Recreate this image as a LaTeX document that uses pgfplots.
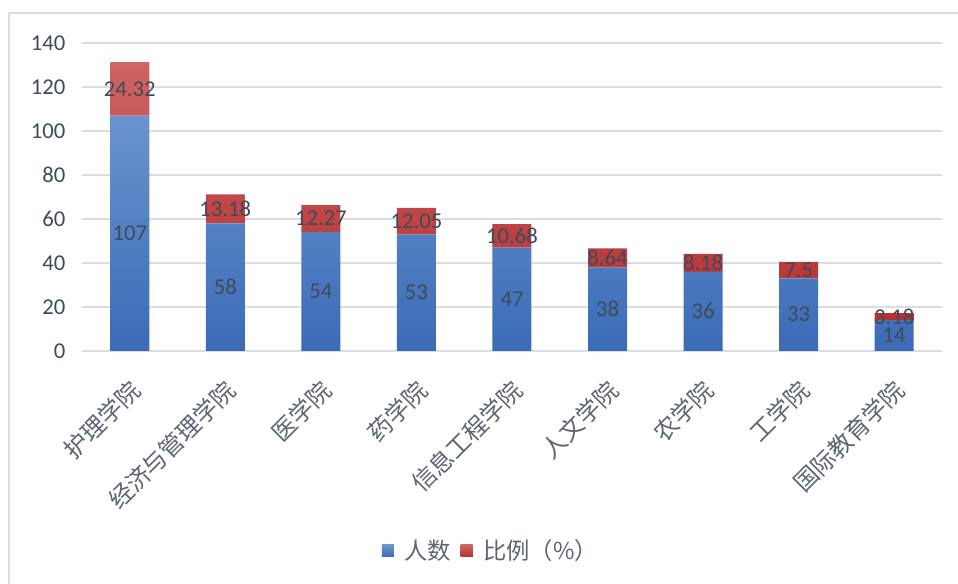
\documentclass[border=0pt]{standalone}
\usepackage{fontspec}
\setmainfont{Carlito}
\newfontfamily\cjk{Noto Sans CJK SC}
\usepackage{pgfplots}
\pgfplotsset{compat=1.18}

\definecolor{lbl}{HTML}{404A5A}
\definecolor{gridc}{HTML}{DCDDE2}
\definecolor{bluetop}{HTML}{6A94D0}
\definecolor{bluebot}{HTML}{3A6BB5}
\definecolor{redtop}{HTML}{CF6464}
\definecolor{redbot}{HTML}{B53030}

\begin{document}
\begin{tikzpicture}
\path[use as bounding box] (0,0) rectangle (718.5pt,438pt);
\draw[gridc, line width=1.2pt] (6.75pt,0) -- (6.75pt,428.25pt) -- (718.5pt,428.25pt);

\begin{axis}[
    at={(61.5pt,174.75pt)}, anchor=south west,
    scale only axis,
    width=645pt, height=231pt,
    ybar stacked,
    bar width=29.25pt,
    xmin=-0.5, xmax=8.5,
    ymin=0, ymax=140,
    ytick={0,20,...,140},
    xtick=data,
    xticklabels={护理学院,经济与管理学院,医学院,药学院,信息工程学院,人文学院,农学院,工学院,国际教育学院},
    xticklabel style={font=\cjk\fontsize{18}{20}\selectfont, text=lbl!85, xshift=7pt, yshift=-23.5pt, rotate=45, anchor=east},
    yticklabel style={font=\fontsize{17}{20}\selectfont, text=lbl, xshift=-9pt},
    /pgf/number format/assume math mode=true,
    ymajorgrids,
    major grid style={gridc, line width=1.2pt},
    axis line style={draw=none},
    tick style={draw=none},
    visualization depends on={rawy \as \rawy},
    nodes near coords={\pgfmathprintnumber{\rawy}},
    every node near coord/.append style={font=\fontsize{17}{20}\selectfont, text=lbl, anchor=center},
    legend style={at={(0.476,-0.649)}, anchor=center, legend columns=2, draw=none,
        font=\cjk\fontsize{17.5}{20}\selectfont, text=lbl!85,
        /tikz/every odd column/.append style={column sep=6pt},
        /tikz/every even column/.append style={column sep=5pt}},
    legend image code/.code={\fill[#1] (0pt,-4.5pt) rectangle (9pt,4.5pt);},
]
\addplot[draw=none, top color=bluetop, bottom color=bluebot] coordinates {
    (0,107) (1,58) (2,54) (3,53) (4,47) (5,38) (6,36) (7,33) (8,14)
};
\addlegendentry{人数}
\addplot[draw=none, top color=redtop, bottom color=redbot] coordinates {
    (0,24.32) (1,13.18) (2,12.27) (3,12.05) (4,10.68) (5,8.64) (6,8.18) (7,7.5) (8,3.18)
};
\addlegendentry{比例（\%）}
\end{axis}
\end{tikzpicture}
\end{document}
